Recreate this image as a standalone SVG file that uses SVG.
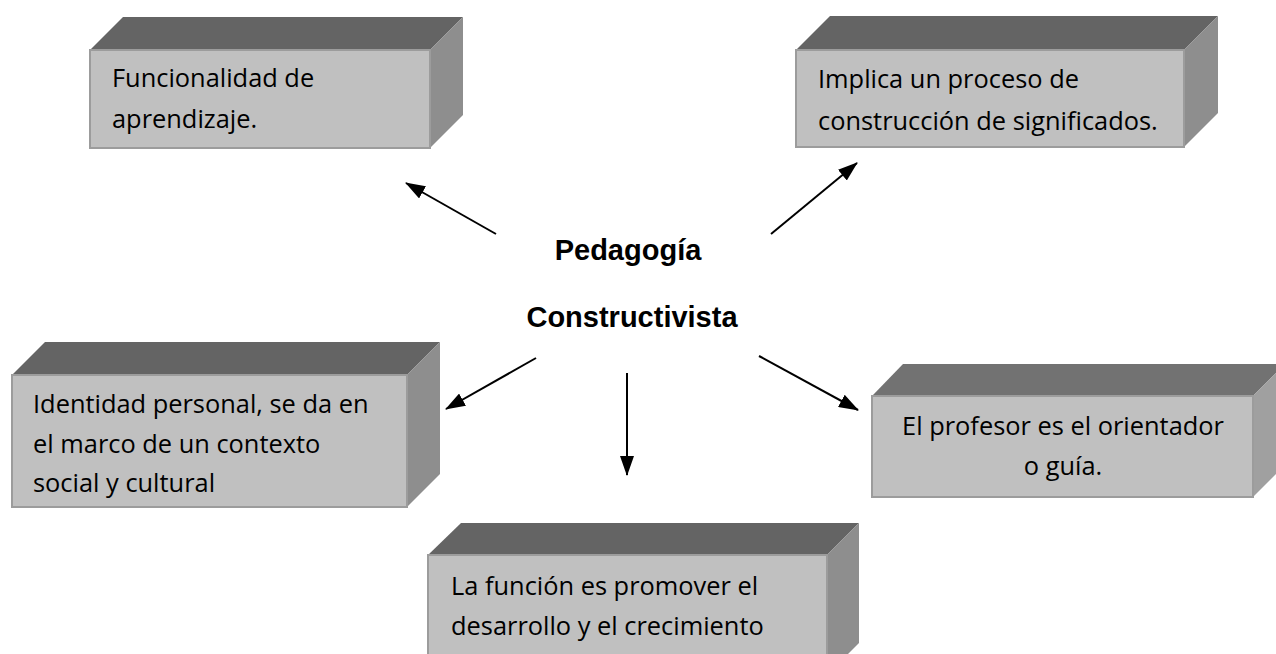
<svg xmlns="http://www.w3.org/2000/svg" width="1276" height="654" viewBox="0 0 1276 654">
  <defs>
    <marker id="ah" viewBox="0 0 20 14" refX="19" refY="7" markerWidth="20" markerHeight="14" markerUnits="userSpaceOnUse" orient="auto">
      <path d="M0,0 L20,7 L0,14 z" fill="#000"/>
    </marker>
  </defs>
  <style>
    .front { fill: #c0c0c0; stroke: #9c9c9c; stroke-width: 2; }
    .top { fill: #646464; }
    .side { fill: #8e8e8e; }
    .t { font-family: "Open Sans", "Noto Sans", sans-serif; font-size: 25.4px; fill: #000; }
    .c { font-family: "Liberation Sans", Arial, sans-serif; font-size: 29px; font-weight: bold; fill: #000; text-anchor: middle; }
    .conn line { stroke: #000; stroke-width: 2; marker-end: url(#ah); }
  </style>
  <rect width="1276" height="654" fill="#fff"/>

  <g id="center">
    <text class="c" x="628" y="260">Pedagogía</text>
    <text class="c" x="632" y="327">Constructivista</text>
  </g>

  <g id="box1">
    <polygon class="top" points="90,50 123,17 463,17 430,50"/>
    <polygon class="side" points="430,50 463,17 463,115 430,148"/>
    <rect class="front" x="90" y="50" width="340" height="98"/>
    <text class="t" x="112" y="87">Funcionalidad de</text>
    <text class="t" x="112" y="128">aprendizaje.</text>
  </g>

  <g id="box2">
    <polygon class="top" points="796,50 830,16 1218,16 1184,50"/>
    <polygon class="side" points="1184,50 1218,16 1218,113 1184,147"/>
    <rect class="front" x="796" y="50" width="388" height="97"/>
    <text class="t" x="818" y="88">Implica un proceso de</text>
    <text class="t" x="818" y="130">construcción de significados.</text>
  </g>

  <g id="box3">
    <polygon class="top" points="12,375 45,342 440,342 407,375"/>
    <polygon class="side" points="407,375 440,342 440,474 407,507"/>
    <rect class="front" x="12" y="375" width="395" height="132"/>
    <text class="t" x="33" y="413">Identidad personal, se da en</text>
    <text class="t" x="33" y="453">el marco de un contexto</text>
    <text class="t" x="33" y="492">social y cultural</text>
  </g>

  <g id="box4">
    <polygon class="top" points="872,396 903,364 1285,364 1253,396" style="fill:#727272"/>
    <polygon class="side" points="1253,396 1285,364 1285,465 1253,497" style="fill:#a0a0a0"/>
    <rect class="front" x="872" y="396" width="381" height="101"/>
    <text class="t" x="1063" y="435" text-anchor="middle">El profesor es el orientador</text>
    <text class="t" x="1063" y="475" text-anchor="middle">o guía.</text>
  </g>

  <g id="box5">
    <polygon class="top" points="428,555 461,523 859,523 827,555"/>
    <polygon class="side" points="827,555 859,523 859,643 827,675"/>
    <rect class="front" x="428" y="555" width="399" height="120"/>
    <text class="t" x="451" y="595">La función es promover el</text>
    <text class="t" x="451" y="635">desarrollo y el crecimiento</text>
  </g>

  <g id="connectors" class="conn">
    <line x1="496" y1="234" x2="406" y2="183"/>
    <line x1="771" y1="234" x2="857" y2="163"/>
    <line x1="536" y1="358" x2="446" y2="409"/>
    <line x1="627" y1="373" x2="627" y2="475"/>
    <line x1="759" y1="356" x2="858" y2="410"/>
  </g>
</svg>
